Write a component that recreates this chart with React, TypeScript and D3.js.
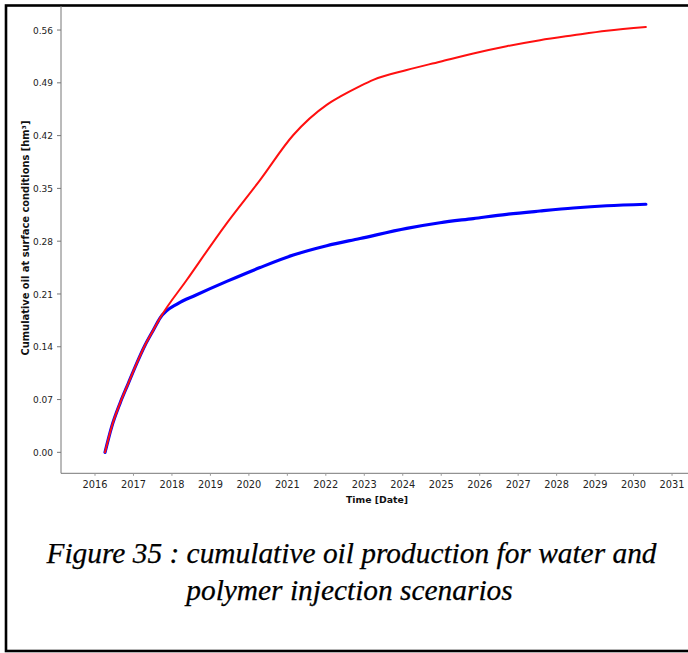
import React from "react";
import * as d3 from "d3";

// Cumulative oil production (hm³) by decimal year
const waterYears = [
  2016.26, 2016.434, 2016.65, 2016.866, 2017.084, 2017.3, 2017.515, 2017.69,
  2018.165, 2018.6, 2019.44, 2020.289, 2021.155, 2022.023, 2022.889,
  2024.103, 2024.968, 2025.834, 2026.702, 2027.568, 2028.434,
  2029.3, 2030.32,
];
const waterValues = [
  0, 0.034, 0.065, 0.0915, 0.118, 0.142, 0.162, 0.178, 0.1976, 0.208, 0.227,
  0.245, 0.2616, 0.274, 0.2835, 0.297, 0.3045, 0.31, 0.3156, 0.32,
  0.324, 0.327, 0.329,
];

const polymerYears = [
  2016.26, 2016.434, 2016.65, 2016.866, 2017.084, 2017.3, 2017.515, 2017.69,
  2018.384, 2019.423, 2020.289, 2021.155, 2022.023, 2022.369,
  2022.889, 2023.234, 2024.103, 2024.968, 2025.834, 2026.702, 2027.568,
  2028.434, 2029.3, 2030.32,
];
const polymerValues = [
  0, 0.034, 0.065, 0.0915, 0.118, 0.142, 0.162, 0.178, 0.2285, 0.3037,
  0.361, 0.4208, 0.4608, 0.4716, 0.4857, 0.494, 0.507, 0.518, 0.529, 0.5386,
  0.5466, 0.553, 0.559, 0.564,
];

const yTicks = [0, 0.07, 0.14, 0.21, 0.28, 0.35, 0.42, 0.49, 0.56];
const xTicks = [
  2016, 2017, 2018, 2019, 2020, 2021, 2022, 2023, 2024, 2025, 2026, 2027,
  2028, 2029, 2030, 2031,
];

const captionLines = [
  "Figure 35 : cumulative oil production for water and",
  "polymer injection scenarios",
];

const W = 688;
const H = 653;
const axisX = 61;
const axisY = 473.3;
const plotRight = 688;
const plotTop = 5;

export default function App() {
  const x = d3.scaleLinear().domain([2015.116, 2031.415]).range([axisX, plotRight]);
  const y = d3.scaleLinear().domain([-0.0278, 0.5932]).range([axisY, plotTop]);

  const line = d3
    .line<[number, number]>()
    .x((d) => x(d[0]))
    .y((d) => y(d[1]))
    .curve(d3.curveMonotoneX);

  const water = waterYears.map((t, i) => [t, waterValues[i]] as [number, number]);
  const polymer = polymerYears.map((t, i) => [t, polymerValues[i]] as [number, number]);

  const tickFont = "'DejaVu Sans', Verdana, sans-serif";
  const captionFont = "'Liberation Serif', 'Times New Roman', serif";

  return (
    <svg
      width={W}
      height={H}
      style={{ position: "absolute", left: 0, top: 0, background: "#fff" }}
    >
      <rect x={0} y={0} width={W} height={H} fill="#fff" />
      {/* outer frame */}
      <rect x={6} y={5.5} width={W + 10} height={645.5} fill="none" stroke="#000" strokeWidth={2.6} />

      {/* axes */}
      <line x1={axisX} y1={plotTop + 1} x2={axisX} y2={axisY} stroke="#777" strokeWidth={1} />
      <line x1={axisX} y1={axisY} x2={plotRight} y2={axisY} stroke="#777" strokeWidth={1} />

      {yTicks.map((v) => (
        <g key={"y" + v}>
          <line x1={axisX - 4} x2={axisX} y1={y(v)} y2={y(v)} stroke="#777" strokeWidth={1} />
          <text
            x={53}
            y={y(v) + 3.6}
            textAnchor="end"
            fontFamily={tickFont}
            fontSize={9}
            fill="#222"
          >
            {d3.format(".2f")(v)}
          </text>
        </g>
      ))}

      {xTicks.map((t) => (
        <g key={"x" + t}>
          <line x1={x(t)} x2={x(t)} y1={axisY} y2={axisY + 2.5} stroke="#999" strokeWidth={1} />
          <text
            x={x(t)}
            y={487.5}
            textAnchor="middle"
            fontFamily={tickFont}
            fontSize={9.8}
            fill="#222"
          >
            {t}
          </text>
        </g>
      ))}

      <text
        x={377}
        y={503}
        textAnchor="middle"
        fontFamily={tickFont}
        fontWeight="bold"
        fontSize={9.3}
        fill="#111"
      >
        Time [Date]
      </text>
      <text
        transform="translate(29,238) rotate(-90)"
        textAnchor="middle"
        fontFamily={tickFont}
        fontWeight="bold"
        fontSize={9.9}
        fill="#111"
      >
        Cumulative oil at surface conditions [hm³]
      </text>

      {/* series */}
      <path d={line(water) || ""} fill="none" stroke="#0000ff" strokeWidth={3.2} strokeLinejoin="round" strokeLinecap="round" />
      <path d={line(polymer) || ""} fill="none" stroke="#ff1010" strokeWidth={2} strokeLinejoin="round" strokeLinecap="round" />

      {/* caption */}
      <text
        x={351.5}
        y={562.5}
        textAnchor="middle"
        fontFamily={captionFont}
        fontStyle="italic"
        fontSize={29.4}
        fill="#000"
        stroke="#000"
        strokeWidth={0.25}
      >
        {captionLines[0]}
      </text>
      <text
        x={349.5}
        y={600}
        textAnchor="middle"
        fontFamily={captionFont}
        fontStyle="italic"
        fontSize={29.4}
        fill="#000"
        stroke="#000"
        strokeWidth={0.25}
      >
        {captionLines[1]}
      </text>
    </svg>
  );
}
